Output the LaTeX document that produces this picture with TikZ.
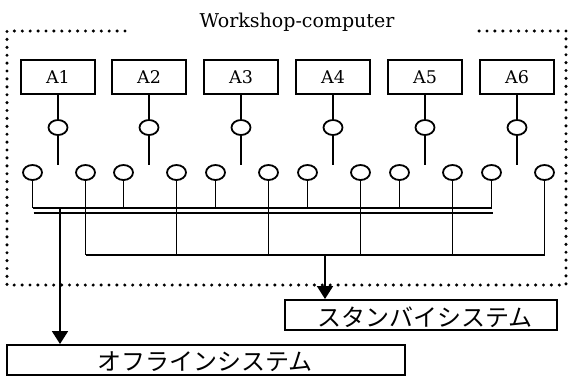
\documentclass[tikz,border=0pt]{standalone}
\usepackage{fontspec}
\setmainfont{DejaVu Serif}
\newfontfamily\jp{Noto Sans CJK JP}
\usetikzlibrary{shapes.geometric,arrows.meta,calc}
\begin{document}
\begin{tikzpicture}[x=1pt,y=-1pt,
  abox/.style={draw,line width=2pt,minimum width=74pt,minimum height=34pt,inner sep=0pt,font=\fontsize{17.5}{17.5}\selectfont},
  cir/.style={draw,ellipse,line width=1.8pt,minimum width=19pt,minimum height=15pt,inner sep=0pt},
  wire/.style={line width=1.9pt},
  bus/.style={line width=2.4pt},
  dots/.style={line width=3.4pt,line cap=round,dash pattern=on 0pt off 7.9pt},
  arr/.style={wire,-{Triangle[width=16pt,length=13pt]}},
  jbox/.style={draw,line width=2pt,inner sep=0pt},
  jtext/.style={font=\jp\fontsize{24}{24}\selectfont,inner sep=0pt}
]
\useasboundingbox (0,0) rectangle (568,376);
% dotted frame
\draw[dots] (125,31) -- (7,31) -- (7,285) -- (566,285) -- (566,31) -- (472,31);
\node[font=\fontsize{19}{19}\selectfont,anchor=base,inner sep=0pt] (title) at (297,27) {Workshop-computer};
\coordinate (bt) at (0,208);
\coordinate (lb) at (0,255);
\foreach \i/\c in {1/58,2/149,3/241,4/333,5/425,6/517}{
  \node[abox] (A\i) at (\c,77) {A\i};
  \node[cir] (u\i) at (\c,127.5) {};
  \node[cir] (l\i) at (\c-25.5,172.5) {};
  \node[cir] (r\i) at (\c+27.5,172.5) {};
  \coordinate (s\i) at (\c,165);
  \draw[wire] (A\i.south) -- (u\i.north) (u\i.south) -- (s\i);
  \draw[wire] (l\i.south) -- (l\i.south |- bt);
  \draw[wire] (r\i.south) -- (r\i.south |- lb);
}
% double bus
\draw[bus] (l1.south |- bt) -- (l6.south |- bt);
\draw[bus] ($(l1.south |- bt)+(1,5)$) -- ($(l6.south |- bt)+(1,5)$);
% lower bus
\draw[wire] (r1.south |- lb) -- (r6.south |- lb);
% target boxes
\node[jbox,minimum width=398pt,minimum height=30pt] (off) at (206,360) {};
\node[jtext] (offt) at (205,362) {オフラインシステム};
\node[jbox,minimum width=272pt,minimum height=30pt] (stb) at (421,315) {};
\node[jtext] (stbt) at (425,317.5) {スタンバイシステム};
% arrows
\coordinate (offsrc) at (60,208);
\draw[arr] (offsrc) -- (offsrc |- off.north);
\coordinate (stsrc) at (325,255);
\draw[arr] (stsrc) -- (stsrc |- stb.north);
\end{tikzpicture}
\end{document}
